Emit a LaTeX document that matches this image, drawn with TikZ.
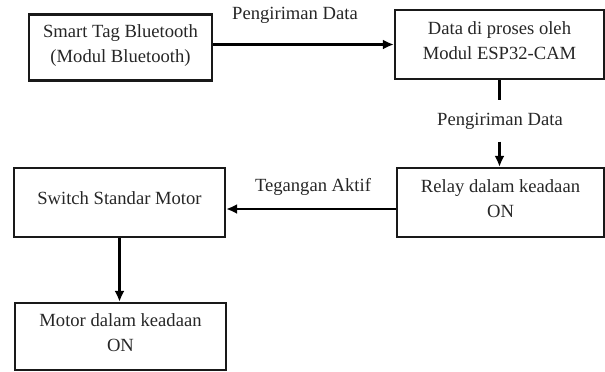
\documentclass[tikz,border=0pt]{standalone}
\usepackage{fontspec}
\setmainfont{Liberation Serif}
\usetikzlibrary{positioning,arrows.meta}

\begin{document}
\begin{tikzpicture}[x=0.5pt,y=-0.5pt]
\tikzstyle{every node}+=[inner sep=0pt, font=\fontsize{9.3}{12.2}\selectfont, text=black!85]
\tikzstyle{block}=[draw=black!90, line width=1.1pt, align=center, text depth=4pt]
\tikzstyle{flow}=[draw=black, line width=1.1pt, -{Latex[length=5.5pt,width=5pt]}]
\useasboundingbox (0,0) rectangle (605,371);
% blocks
\node [block, minimum width=91.5pt, minimum height=33pt] (tag) at (120.5,47.5) {Smart Tag Bluetooth\\(Modul Bluetooth)};
\node [block, minimum width=104.5pt, minimum height=34.5pt] (esp) at (499.5,44.5) {Data di proses oleh\\Modul ESP32-CAM};
\node [block, minimum width=103.5pt, minimum height=34.5pt] (relay) at (500.5,202.5) {Relay dalam keadaan\\ON};
\node [block, minimum width=105.5pt, minimum height=34.5pt] (switch) at (119.5,202.5) {Switch Standar Motor};
\node [block, minimum width=105.5pt, minimum height=33.5pt] (motor) at (120.5,336.5) {Motor dalam keadaan\\ON};
% labels
\node (send1) at (295,15) {Pengiriman Data};
\node [inner ysep=6pt] (send2) at (500,121) {Pengiriman Data};
\node (volt) at (313,187) {Tegangan Aktif};
% connectors
\draw [flow] (tag.east |- esp.west) -- (esp.west);
\draw [line width=1.1pt] (esp.south) -- (esp.south |- send2.north);
\draw [flow] (esp.south |- send2.south) -- (esp.south |- relay.north);
\draw [flow] ([yshift=-3.25pt]relay.west) -- ([yshift=-3.25pt]relay.west -| switch.east);
\draw [flow] (switch.south) -- (switch.south |- motor.north);
\end{tikzpicture}
\end{document}
